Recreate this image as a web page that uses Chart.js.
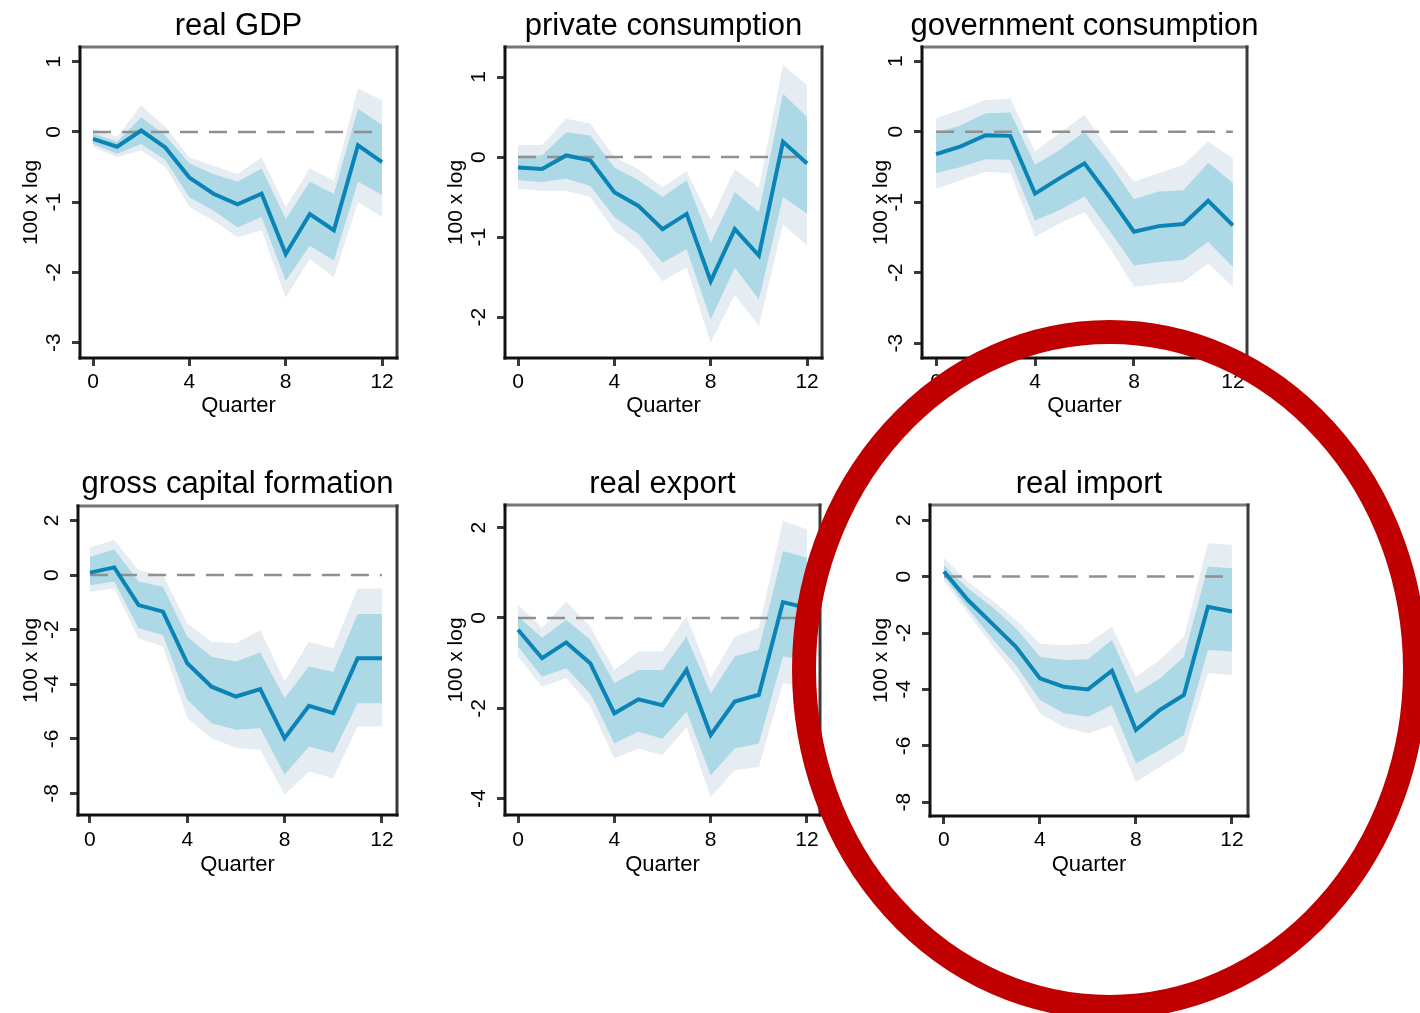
<!DOCTYPE html>
<html>
<head>
<meta charset="utf-8">
<script src="https://cdn.jsdelivr.net/npm/chart.js@4.4.0/dist/chart.umd.min.js"></script>
<style>
  html, body { margin: 0; padding: 0; background: #fff; }
  body { width: 1420px; height: 1013px; position: relative; overflow: hidden; }
  canvas { position: absolute; }
</style>
</head>
<body>
<canvas id="ring" width="1420" height="1013" style="left:0;top:0;z-index:5"></canvas>
<script>
// horizon and ticks
const quarters = [0, 1, 2, 3, 4, 5, 6, 7, 8, 9, 10, 11, 12];
const xTicks = [0, 4, 8, 12];
const zeroSpan = [0, 12];

// real GDP
const gdpTicks = [1, 0, -1, -2, -3];
const gdpIrf  = [-0.10, -0.21, 0.02, -0.22, -0.65, -0.88, -1.03, -0.88, -1.74, -1.17, -1.40, -0.19, -0.43];
const gdpLo68 = [-0.17, -0.31, -0.17, -0.40, -0.93, -1.12, -1.36, -1.21, -2.12, -1.62, -1.83, -0.71, -0.90];
const gdpHi68 = [-0.02, -0.14, 0.21, -0.05, -0.45, -0.60, -0.71, -0.52, -1.24, -0.71, -0.88, 0.33, 0.10];
const gdpLo90 = [-0.21, -0.36, -0.26, -0.50, -1.07, -1.26, -1.50, -1.40, -2.36, -1.81, -2.07, -1.00, -1.21];
const gdpHi90 = [0.05, -0.07, 0.38, 0.07, -0.36, -0.48, -0.60, -0.36, -1.07, -0.52, -0.69, 0.62, 0.45];

// private consumption
const pcTicks = [1, 0, -1, -2];
const pcIrf  = [-0.13, -0.15, 0.02, -0.04, -0.44, -0.61, -0.90, -0.71, -1.55, -0.90, -1.23, 0.19, -0.08];
const pcLo68 = [-0.29, -0.31, -0.27, -0.36, -0.75, -0.96, -1.32, -1.15, -2.03, -1.38, -1.78, -0.50, -0.71];
const pcHi68 = [0.02, 0.02, 0.31, 0.27, -0.13, -0.29, -0.50, -0.29, -1.07, -0.44, -0.69, 0.79, 0.50];
const pcLo90 = [-0.40, -0.42, -0.42, -0.50, -0.92, -1.15, -1.55, -1.38, -2.32, -1.72, -2.11, -0.84, -1.11];
const pcHi90 = [0.15, 0.15, 0.48, 0.42, 0.00, -0.15, -0.38, -0.17, -0.79, -0.15, -0.38, 1.15, 0.90];

// government consumption
const gcTicks = [1, 0, -1, -2, -3];
const gcIrf  = [-0.32, -0.21, -0.05, -0.06, -0.88, -0.66, -0.45, -0.92, -1.42, -1.34, -1.31, -0.98, -1.33];
const gcLo68 = [-0.59, -0.50, -0.39, -0.40, -1.26, -1.11, -0.92, -1.40, -1.90, -1.85, -1.82, -1.56, -1.92];
const gcHi68 = [-0.02, 0.09, 0.26, 0.27, -0.47, -0.26, 0.00, -0.45, -0.96, -0.85, -0.83, -0.44, -0.73];
const gcLo90 = [-0.81, -0.69, -0.57, -0.59, -1.49, -1.30, -1.14, -1.64, -2.20, -2.16, -2.13, -1.87, -2.20];
const gcHi90 = [0.19, 0.31, 0.45, 0.47, -0.28, -0.02, 0.24, -0.26, -0.71, -0.59, -0.47, -0.14, -0.38];

// gross capital formation
const gfTicks = [2, 0, -2, -4, -6, -8];
const gfIrf  = [0.09, 0.28, -1.10, -1.34, -3.23, -4.09, -4.45, -4.18, -5.98, -4.79, -5.06, -3.05, -3.05];
const gfLo68 = [-0.37, -0.24, -1.95, -2.20, -4.57, -5.43, -5.67, -5.61, -7.32, -6.28, -6.52, -4.70, -4.70];
const gfHi68 = [0.67, 0.94, -0.24, -0.43, -2.26, -2.99, -3.17, -2.84, -4.51, -3.35, -3.54, -1.43, -1.43];
const gfLo90 = [-0.61, -0.49, -2.32, -2.62, -5.24, -5.98, -6.34, -6.40, -8.05, -7.20, -7.44, -5.55, -5.55];
const gfHi90 = [1.01, 1.28, 0.18, 0.00, -1.77, -2.44, -2.50, -2.01, -3.90, -2.44, -2.68, -0.49, -0.49];

// real export
const exTicks = [2, 0, -2, -4];
const exIrf  = [-0.26, -0.89, -0.54, -1.00, -2.11, -1.80, -1.93, -1.15, -2.59, -1.85, -1.70, 0.35, 0.22];
const exLo68 = [-0.63, -1.30, -1.11, -1.67, -2.78, -2.52, -2.67, -2.07, -3.48, -2.89, -2.78, -0.85, -0.93];
const exHi68 = [0.04, -0.44, -0.04, -0.48, -1.44, -1.15, -1.15, -0.41, -1.67, -0.85, -0.70, 1.48, 1.33];
const exLo90 = [-0.85, -1.52, -1.33, -1.96, -3.11, -2.89, -3.04, -2.41, -3.96, -3.37, -3.30, -1.44, -1.52];
const exHi90 = [0.30, -0.22, 0.37, -0.19, -1.15, -0.74, -0.74, 0.04, -1.33, -0.41, -0.22, 2.15, 1.96];

// real import
const imTicks = [2, 0, -2, -4, -6, -8];
const imIrf  = [0.18, -0.83, -1.66, -2.49, -3.61, -3.91, -4.00, -3.34, -5.44, -4.73, -4.20, -1.07, -1.24];
const imLo68 = [0.00, -1.12, -2.19, -3.14, -4.38, -4.85, -4.97, -4.56, -6.63, -6.15, -5.62, -2.60, -2.66];
const imHi68 = [0.40, -0.41, -1.07, -1.83, -2.84, -2.96, -2.93, -2.25, -4.14, -3.61, -2.84, 0.36, 0.30];
const imLo90 = [-0.15, -1.30, -2.43, -3.49, -4.85, -5.33, -5.56, -5.27, -7.28, -6.75, -6.21, -3.43, -3.49];
const imHi90 = [0.65, -0.18, -0.83, -1.54, -2.37, -2.43, -2.37, -1.78, -3.55, -2.96, -2.13, 1.18, 1.12];

const FONT = '"Liberation Sans", Arial, sans-serif';
const LINE = '#0a84b6';
const INNER = '#add8e6';
const OUTER = '#e6edf2';

Chart.defaults.font.family = FONT;
Chart.defaults.color = '#000';

// page layout: canvas origin, plot box [l, t, r, b], axis ranges
const panels = [
  {title: 'real GDP', irf: gdpIrf, lo68: gdpLo68, hi68: gdpHi68, lo90: gdpLo90, hi90: gdpHi90, yTicks: gdpTicks,
   cx: 0, cy: 0, box: [80, 47, 397, 358], xr: [-0.54, 12.62], yr: [-3.22, 1.21]},
  {title: 'private consumption', irf: pcIrf, lo68: pcLo68, hi68: pcHi68, lo90: pcLo90, hi90: pcHi90, yTicks: pcTicks,
   cx: 425, cy: 0, box: [505, 47, 822, 358], xr: [-0.54, 12.62], yr: [-2.51, 1.375]},
  {title: 'government consumption', irf: gcIrf, lo68: gcLo68, hi68: gcHi68, lo90: gcLo90, hi90: gcHi90, yTicks: gcTicks,
   cx: 850, cy: 0, box: [922, 47, 1247, 358], xr: [-0.57, 12.57], yr: [-3.21, 1.2]},
  {title: 'gross capital formation', irf: gfIrf, lo68: gfLo68, hi68: gfHi68, lo90: gfLo90, hi90: gfHi90, yTicks: gfTicks,
   cx: 0, cy: 460, box: [78, 506, 397, 815], xr: [-0.49, 12.62], yr: [-8.79, 2.53]},
  {title: 'real export', irf: exIrf, lo68: exLo68, hi68: exHi68, lo90: exLo90, hi90: exHi90, yTicks: exTicks,
   cx: 425, cy: 460, box: [505, 505, 820, 815], xr: [-0.54, 12.54], yr: [-4.36, 2.5]},
  {title: 'real import', irf: imIrf, lo68: imLo68, hi68: imHi68, lo90: imLo90, hi90: imHi90, yTicks: imTicks,
   cx: 850, cy: 460, box: [930, 505, 1248, 816], xr: [-0.58, 12.67], yr: [-8.49, 2.54]}
];

function pts(vals) {
  return vals.map((v, i) => ({x: quarters[i], y: v}));
}

// title above the box, rotated y tick labels, plot frame
const panelDecor = {
  id: 'panelDecor',
  afterDatasetsDraw(chart) {
    const {left, top, right, bottom} = chart.chartArea;
    const ctx = chart.ctx;
    ctx.save();
    ctx.lineWidth = 3;
    ctx.lineCap = 'square';
    const seg = (c, x1, y1, x2, y2) => {
      ctx.strokeStyle = c;
      ctx.beginPath(); ctx.moveTo(x1, y1); ctx.lineTo(x2, y2); ctx.stroke();
    };
    seg('#777', left, top, right, top);
    seg('#3a3a3a', right, top, right, bottom);
    seg('#111', left, bottom, right, bottom);
    seg('#111', left, top, left, bottom);
    ctx.restore();
  },
  afterDraw(chart, args, opts) {
    const ctx = chart.ctx;
    const {left, right} = chart.chartArea;
    ctx.save();
    ctx.fillStyle = '#000';
    ctx.font = '31px ' + FONT;
    ctx.textAlign = 'center';
    ctx.textBaseline = 'alphabetic';
    ctx.fillText(opts.title, (left + right) / 2, opts.baseline);

    const s = chart.scales.y;
    ctx.font = '21px ' + FONT;
    ctx.textBaseline = 'middle';
    s.ticks.forEach(t => {
      ctx.save();
      ctx.translate(s.right - 26, s.getPixelForValue(t.value));
      ctx.rotate(-Math.PI / 2);
      ctx.fillText(String(t.value), 0, 0);
      ctx.restore();
    });
    ctx.restore();
  }
};

panels.forEach((p, k) => {
  const [L, T, R, B] = p.box;
  const rowBottom = p.cy === 0 ? 430 : 890;
  const tickY = p.cy === 0 ? 382 : 840;
  const quarterY = p.cy === 0 ? 405.5 : 864.5;
  const titleBase = p.cy === 0 ? 35 : 493;
  const W = R - p.cx + 14;
  const H = rowBottom - p.cy;

  const cv = document.createElement('canvas');
  cv.width = W; cv.height = H;
  cv.style.left = p.cx + 'px';
  cv.style.top = p.cy + 'px';
  cv.style.zIndex = k;
  document.body.appendChild(cv);

  const tickGrid = {display: true, drawOnChartArea: false, drawTicks: true, tickLength: 8,
                    tickColor: '#3a3a3a', tickWidth: 3};

  new Chart(cv, {
    type: 'line',
    data: {
      datasets: [
        {data: pts(p.irf), borderColor: LINE, borderWidth: 4, fill: false, order: 0},
        {data: zeroSpan.map(x => ({x: x, y: 0})), borderColor: '#909090', borderWidth: 2.5,
         borderDash: [18, 11], fill: false, order: 1},
        {data: pts(p.hi68), borderWidth: 0, borderColor: 'transparent', backgroundColor: INNER, fill: '+1', order: 2},
        {data: pts(p.lo68), borderWidth: 0, borderColor: 'transparent', fill: false, order: 2},
        {data: pts(p.hi90), borderWidth: 0, borderColor: 'transparent', backgroundColor: OUTER, fill: '+1', order: 3},
        {data: pts(p.lo90), borderWidth: 0, borderColor: 'transparent', fill: false, order: 3}
      ]
    },
    options: {
      responsive: false,
      animation: false,
      events: [],
      layout: {padding: {top: T - p.cy, right: 14, left: 0, bottom: 0}},
      elements: {point: {radius: 0}, line: {tension: 0}},
      plugins: {
        legend: {display: false},
        tooltip: {enabled: false},
        title: {display: false},
        panelDecor: {title: p.title, baseline: titleBase - p.cy}
      },
      scales: {
        x: {
          type: 'linear', min: p.xr[0], max: p.xr[1],
          afterBuildTicks: s => { s.ticks = xTicks.map(v => ({value: v})); },
          afterFit: s => { s.height = rowBottom - B; },
          grid: tickGrid,
          border: {display: false},
          ticks: {font: {size: 21}, color: '#000', padding: tickY - B - 20.6, maxRotation: 0},
          title: {display: true, text: 'Quarter', font: {size: 22}, color: '#000',
                  padding: {top: 0, bottom: rowBottom - quarterY - 13.2}}
        },
        y: {
          type: 'linear', min: p.yr[0], max: p.yr[1],
          afterBuildTicks: s => { s.ticks = p.yTicks.map(v => ({value: v})); },
          afterFit: s => { s.width = L - p.cx; },
          grid: tickGrid,
          border: {display: false},
          ticks: {display: false},
          title: {display: true, text: '100 x log', font: {size: 21}, color: '#000',
                  padding: {top: 31 - 12.6, bottom: 0}}
        }
      }
    },
    plugins: [panelDecor]
  });
});

// red hand-drawn circle around the import panel
const rc = document.getElementById('ring').getContext('2d');
rc.strokeStyle = '#c00000';
rc.lineWidth = 24;
rc.beginPath();
rc.ellipse(1109.5, 669.5, 305.5, 337.5, 0, 0, Math.PI * 2);
rc.stroke();
</script>
</body>
</html>
